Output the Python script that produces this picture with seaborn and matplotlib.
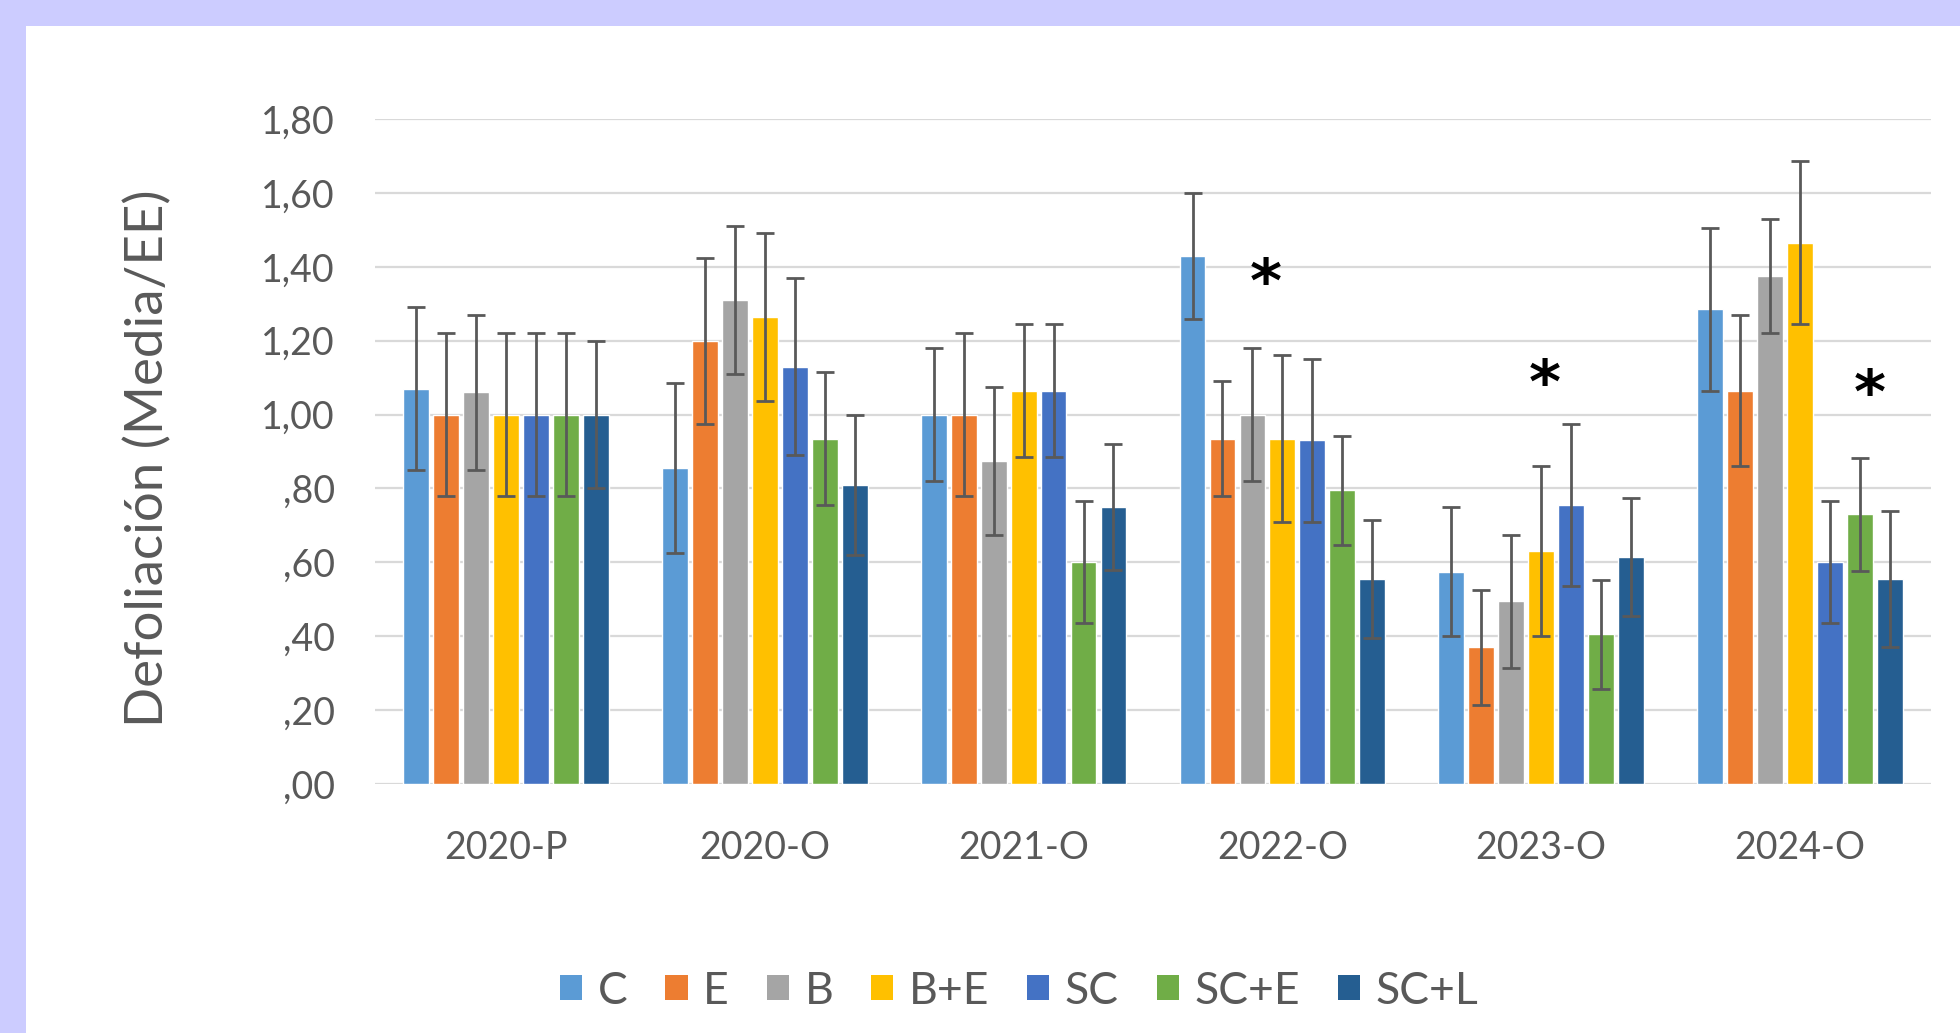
import numpy as np
import pandas as pd
import matplotlib
matplotlib.use("Agg")
import matplotlib.pyplot as plt
from matplotlib.patches import Patch, Rectangle
import seaborn as sns

periods = ["2020-P", "2020-O", "2021-O", "2022-O", "2023-O", "2024-O"]
treatments = ["C", "E", "B", "B+E", "SC", "SC+E", "SC+L"]

# mean values per treatment, one entry per period
mean_C    = [1.07, 0.855, 1.00, 1.43, 0.575, 1.285]
mean_E    = [1.00, 1.20, 1.00, 0.935, 0.37, 1.065]
mean_B    = [1.06, 1.31, 0.875, 1.00, 0.495, 1.375]
mean_BE   = [1.00, 1.265, 1.065, 0.935, 0.63, 1.465]
mean_SC   = [1.00, 1.13, 1.065, 0.93, 0.755, 0.60]
mean_SCE  = [1.00, 0.935, 0.60, 0.795, 0.405, 0.73]
mean_SCL  = [1.00, 0.81, 0.75, 0.555, 0.615, 0.555]

# standard errors
se_C   = [0.22, 0.23, 0.18, 0.17, 0.175, 0.22]
se_E   = [0.22, 0.225, 0.22, 0.155, 0.155, 0.205]
se_B   = [0.21, 0.20, 0.20, 0.18, 0.18, 0.155]
se_BE  = [0.22, 0.227, 0.18, 0.225, 0.23, 0.22]
se_SC  = [0.22, 0.24, 0.18, 0.22, 0.22, 0.165]
se_SCE = [0.22, 0.18, 0.165, 0.148, 0.148, 0.153]
se_SCL = [0.20, 0.19, 0.17, 0.16, 0.16, 0.185]

ytick_values = [0.0, 0.2, 0.4, 0.6, 0.8, 1.0, 1.2, 1.4, 1.6, 1.8]
ytick_labels = [",00", ",20", ",40", ",60", ",80", "1,00", "1,20", "1,40", "1,60", "1,80"]

# significance marks: (period index, x offset within group, y)
star_period = [3, 4, 5]
star_offset = [-0.063, 0.015, 0.27]
star_y = [1.35, 1.075, 1.05]

colors = ["#5B9BD5", "#ED7D31", "#A5A5A5", "#FFC000", "#4472C4", "#70AD47", "#255E91"]

means = [mean_C, mean_E, mean_B, mean_BE, mean_SC, mean_SCE, mean_SCL]
ses = [se_C, se_E, se_B, se_BE, se_SC, se_SCE, se_SCL]

rows = []
for t, m, s in zip(treatments, means, ses):
    for p, mv, sv in zip(periods, m, s):
        rows.append({"period": p, "treatment": t, "value": mv, "se": sv})
df = pd.DataFrame(rows)

sns.set_theme(style="white")
plt.rcParams["font.family"] = ["Lato", "DejaVu Sans"]

W, H = 1960, 1033
fig = plt.figure(figsize=(W / 100, H / 100), dpi=100)
fig.patch.set_facecolor("#CCCCFF")
fig.add_artist(Rectangle((26 / W, 0), 1 - 26 / W, 1 - 26 / H, transform=fig.transFigure,
                         facecolor="white", edgecolor="none", zorder=0))

ax = fig.add_axes([375 / W, 1 - 784 / H, (1931 - 375) / W, (784 - 119) / H])
ax.set_facecolor("none")

sns.barplot(data=df, x="period", y="value", hue="treatment", order=periods,
            hue_order=treatments, palette=colors, errorbar=None, width=0.81,
            gap=0.14, legend=False, ax=ax, saturation=1, zorder=3)

for cont, s in zip(ax.containers, ses):
    xs = [b.get_x() + b.get_width() / 2 for b in cont]
    ys = [b.get_height() for b in cont]
    ax.errorbar(xs, ys, yerr=s, fmt="none", ecolor="#595959", elinewidth=2,
                capsize=6.5, capthick=2, zorder=4)

for pi, off, yv in zip(star_period, star_offset, star_y):
    ax.text(pi + off, yv, "*", ha="center", va="center", fontsize=44,
            fontweight="bold", color="black", family="DejaVu Sans", zorder=5)

ax.set_ylim(0, 1.8)
ax.set_xlim(-0.507, 5.507)
ax.set_yticks(ytick_values)
ax.set_yticklabels(ytick_labels)
ax.yaxis.grid(True, color="#D9D9D9", linewidth=1.6, zorder=0)
ax.set_axisbelow(True)
for sp in ax.spines.values():
    sp.set_visible(False)
ax.tick_params(axis="y", length=0, pad=29, labelsize=27, labelcolor="#595959")
ax.tick_params(axis="x", length=0, pad=33, labelsize=27, labelcolor="#595959")
ax.set_xlabel("")
ax.set_ylabel("Defoliación (Media/EE)", fontsize=38, color="#595959")
ax.yaxis.set_label_coords(-0.13, 0.49)

handles = [Patch(facecolor=c, edgecolor="none") for c in colors]
fig.legend(handles, treatments, loc="center", bbox_to_anchor=(0.52, 1 - 991 / H),
           ncol=7, frameon=False, fontsize=32, handlelength=0.5, handleheight=0.5,
           handletextpad=0.35, columnspacing=0.85, labelcolor="#595959")

fig.savefig("out.png", dpi=100, facecolor=fig.get_facecolor())
